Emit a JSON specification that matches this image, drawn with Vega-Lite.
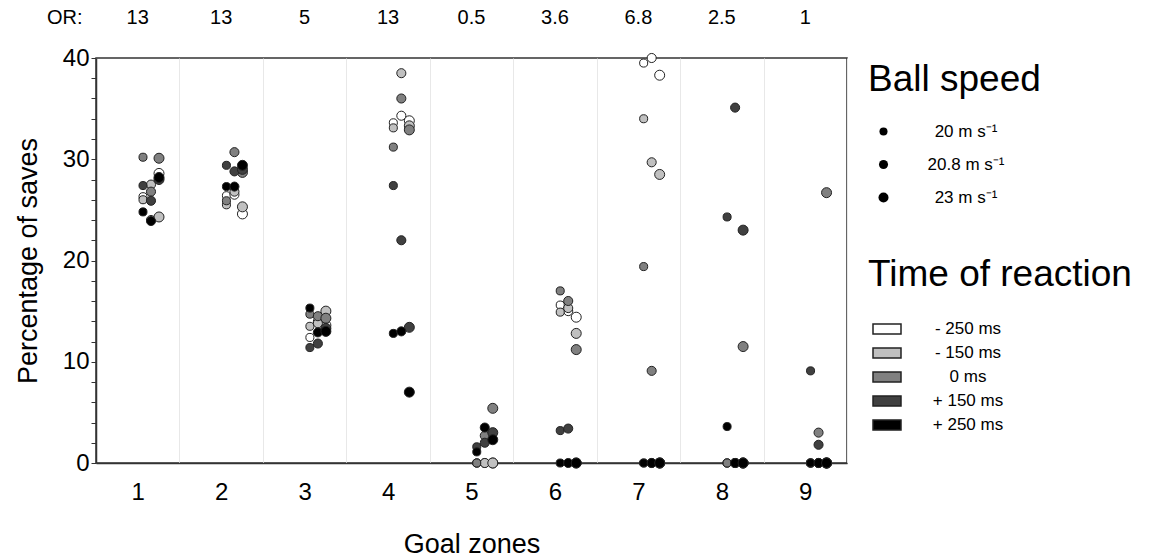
{
  "$schema": "https://vega.github.io/schema/vega-lite/v6.json",
  "width": 751,
  "height": 405,
  "autosize": {"type": "none"},
  "padding": {"left": 96, "top": 58, "right": 303, "bottom": 97},
  "background": "white",
  "config": {
    "font": "Liberation Sans",
    "view": {"stroke": "#333333", "strokeWidth": 1.5},
    "axis": {"labelColor": "black", "titleColor": "black", "titleFontWeight": "normal", "domainColor": "#333333", "domainWidth": 1.5, "tickColor": "#333333", "labelFont": "Liberation Sans", "titleFont": "Liberation Sans"},
    "axisY": {"labelOverlap": false},
    "legend": {"titleFont": "Liberation Sans", "labelFont": "Liberation Sans", "titleColor": "black", "labelColor": "black", "titleFontWeight": "normal", "padding": 0, "titleLimit": 500, "labelLimit": 300}
  },
  "datasets": {
    "obs": [
      {"zone":1,"rt":"- 250 ms","speed":"20 m s\u207b\u00b9","pct":26.3},{"zone":1,"rt":"- 250 ms","speed":"20.8 m s\u207b\u00b9","pct":24.0},{"zone":1,"rt":"- 250 ms","speed":"23 m s\u207b\u00b9","pct":28.6},
      {"zone":1,"rt":"- 150 ms","speed":"20 m s\u207b\u00b9","pct":26.0},{"zone":1,"rt":"- 150 ms","speed":"20.8 m s\u207b\u00b9","pct":27.5},{"zone":1,"rt":"- 150 ms","speed":"23 m s\u207b\u00b9","pct":24.3},
      {"zone":1,"rt":"0 ms","speed":"20 m s\u207b\u00b9","pct":30.2},{"zone":1,"rt":"0 ms","speed":"20.8 m s\u207b\u00b9","pct":26.8},{"zone":1,"rt":"0 ms","speed":"23 m s\u207b\u00b9","pct":30.1},
      {"zone":1,"rt":"+ 150 ms","speed":"20 m s\u207b\u00b9","pct":27.4},{"zone":1,"rt":"+ 150 ms","speed":"20.8 m s\u207b\u00b9","pct":25.9},{"zone":1,"rt":"+ 150 ms","speed":"23 m s\u207b\u00b9","pct":28.0},
      {"zone":1,"rt":"+ 250 ms","speed":"20 m s\u207b\u00b9","pct":24.8},{"zone":1,"rt":"+ 250 ms","speed":"20.8 m s\u207b\u00b9","pct":23.9},{"zone":1,"rt":"+ 250 ms","speed":"23 m s\u207b\u00b9","pct":28.2},

      {"zone":2,"rt":"- 250 ms","speed":"20 m s\u207b\u00b9","pct":26.4},{"zone":2,"rt":"- 250 ms","speed":"20.8 m s\u207b\u00b9","pct":26.5},{"zone":2,"rt":"- 250 ms","speed":"23 m s\u207b\u00b9","pct":24.6},
      {"zone":2,"rt":"- 150 ms","speed":"20 m s\u207b\u00b9","pct":25.5},{"zone":2,"rt":"- 150 ms","speed":"20.8 m s\u207b\u00b9","pct":26.8},{"zone":2,"rt":"- 150 ms","speed":"23 m s\u207b\u00b9","pct":25.3},
      {"zone":2,"rt":"0 ms","speed":"20 m s\u207b\u00b9","pct":25.9},{"zone":2,"rt":"0 ms","speed":"20.8 m s\u207b\u00b9","pct":30.7},{"zone":2,"rt":"0 ms","speed":"23 m s\u207b\u00b9","pct":28.7},
      {"zone":2,"rt":"+ 150 ms","speed":"20 m s\u207b\u00b9","pct":29.4},{"zone":2,"rt":"+ 150 ms","speed":"20.8 m s\u207b\u00b9","pct":28.8},{"zone":2,"rt":"+ 150 ms","speed":"23 m s\u207b\u00b9","pct":29.0},
      {"zone":2,"rt":"+ 250 ms","speed":"20 m s\u207b\u00b9","pct":27.3},{"zone":2,"rt":"+ 250 ms","speed":"20.8 m s\u207b\u00b9","pct":27.3},{"zone":2,"rt":"+ 250 ms","speed":"23 m s\u207b\u00b9","pct":29.4},

      {"zone":3,"rt":"- 250 ms","speed":"20 m s\u207b\u00b9","pct":12.4},{"zone":3,"rt":"- 250 ms","speed":"20.8 m s\u207b\u00b9","pct":14.0},{"zone":3,"rt":"- 250 ms","speed":"23 m s\u207b\u00b9","pct":13.6},
      {"zone":3,"rt":"- 150 ms","speed":"20 m s\u207b\u00b9","pct":13.5},{"zone":3,"rt":"- 150 ms","speed":"20.8 m s\u207b\u00b9","pct":13.8},{"zone":3,"rt":"- 150 ms","speed":"23 m s\u207b\u00b9","pct":15.0},
      {"zone":3,"rt":"0 ms","speed":"20 m s\u207b\u00b9","pct":14.7},{"zone":3,"rt":"0 ms","speed":"20.8 m s\u207b\u00b9","pct":14.5},{"zone":3,"rt":"0 ms","speed":"23 m s\u207b\u00b9","pct":14.3},
      {"zone":3,"rt":"+ 150 ms","speed":"20 m s\u207b\u00b9","pct":11.4},{"zone":3,"rt":"+ 150 ms","speed":"20.8 m s\u207b\u00b9","pct":11.8},{"zone":3,"rt":"+ 150 ms","speed":"23 m s\u207b\u00b9","pct":13.3},
      {"zone":3,"rt":"+ 250 ms","speed":"20 m s\u207b\u00b9","pct":15.3},{"zone":3,"rt":"+ 250 ms","speed":"20.8 m s\u207b\u00b9","pct":12.9},{"zone":3,"rt":"+ 250 ms","speed":"23 m s\u207b\u00b9","pct":13.0},

      {"zone":4,"rt":"- 250 ms","speed":"20 m s\u207b\u00b9","pct":33.6},{"zone":4,"rt":"- 250 ms","speed":"20.8 m s\u207b\u00b9","pct":34.3},{"zone":4,"rt":"- 250 ms","speed":"23 m s\u207b\u00b9","pct":33.8},
      {"zone":4,"rt":"- 150 ms","speed":"20 m s\u207b\u00b9","pct":33.1},{"zone":4,"rt":"- 150 ms","speed":"20.8 m s\u207b\u00b9","pct":38.5},{"zone":4,"rt":"- 150 ms","speed":"23 m s\u207b\u00b9","pct":33.3},
      {"zone":4,"rt":"0 ms","speed":"20 m s\u207b\u00b9","pct":31.2},{"zone":4,"rt":"0 ms","speed":"20.8 m s\u207b\u00b9","pct":36.0},{"zone":4,"rt":"0 ms","speed":"23 m s\u207b\u00b9","pct":32.9},
      {"zone":4,"rt":"+ 150 ms","speed":"20 m s\u207b\u00b9","pct":27.4},{"zone":4,"rt":"+ 150 ms","speed":"20.8 m s\u207b\u00b9","pct":22.0},{"zone":4,"rt":"+ 150 ms","speed":"23 m s\u207b\u00b9","pct":13.4},
      {"zone":4,"rt":"+ 250 ms","speed":"20 m s\u207b\u00b9","pct":12.8},{"zone":4,"rt":"+ 250 ms","speed":"20.8 m s\u207b\u00b9","pct":13.0},{"zone":4,"rt":"+ 250 ms","speed":"23 m s\u207b\u00b9","pct":7.0},

      {"zone":5,"rt":"- 250 ms","speed":"20 m s\u207b\u00b9","pct":0},{"zone":5,"rt":"- 250 ms","speed":"20.8 m s\u207b\u00b9","pct":0},{"zone":5,"rt":"- 250 ms","speed":"23 m s\u207b\u00b9","pct":0},
      {"zone":5,"rt":"- 150 ms","speed":"20 m s\u207b\u00b9","pct":0},{"zone":5,"rt":"- 150 ms","speed":"20.8 m s\u207b\u00b9","pct":0},{"zone":5,"rt":"- 150 ms","speed":"23 m s\u207b\u00b9","pct":0},
      {"zone":5,"rt":"0 ms","speed":"20 m s\u207b\u00b9","pct":0},{"zone":5,"rt":"0 ms","speed":"20.8 m s\u207b\u00b9","pct":2.7},{"zone":5,"rt":"0 ms","speed":"23 m s\u207b\u00b9","pct":5.4},
      {"zone":5,"rt":"+ 150 ms","speed":"20 m s\u207b\u00b9","pct":1.6},{"zone":5,"rt":"+ 150 ms","speed":"20.8 m s\u207b\u00b9","pct":2.0},{"zone":5,"rt":"+ 150 ms","speed":"23 m s\u207b\u00b9","pct":3.0},
      {"zone":5,"rt":"+ 250 ms","speed":"20 m s\u207b\u00b9","pct":1.1},{"zone":5,"rt":"+ 250 ms","speed":"20.8 m s\u207b\u00b9","pct":3.5},{"zone":5,"rt":"+ 250 ms","speed":"23 m s\u207b\u00b9","pct":2.3},

      {"zone":6,"rt":"- 250 ms","speed":"20 m s\u207b\u00b9","pct":15.6},{"zone":6,"rt":"- 250 ms","speed":"20.8 m s\u207b\u00b9","pct":15.0},{"zone":6,"rt":"- 250 ms","speed":"23 m s\u207b\u00b9","pct":14.4},
      {"zone":6,"rt":"- 150 ms","speed":"20 m s\u207b\u00b9","pct":14.9},{"zone":6,"rt":"- 150 ms","speed":"20.8 m s\u207b\u00b9","pct":15.3},{"zone":6,"rt":"- 150 ms","speed":"23 m s\u207b\u00b9","pct":12.8},
      {"zone":6,"rt":"0 ms","speed":"20 m s\u207b\u00b9","pct":17.0},{"zone":6,"rt":"0 ms","speed":"20.8 m s\u207b\u00b9","pct":16.0},{"zone":6,"rt":"0 ms","speed":"23 m s\u207b\u00b9","pct":11.2},
      {"zone":6,"rt":"+ 150 ms","speed":"20 m s\u207b\u00b9","pct":3.2},{"zone":6,"rt":"+ 150 ms","speed":"20.8 m s\u207b\u00b9","pct":3.4},{"zone":6,"rt":"+ 150 ms","speed":"23 m s\u207b\u00b9","pct":0},
      {"zone":6,"rt":"+ 250 ms","speed":"20 m s\u207b\u00b9","pct":0},{"zone":6,"rt":"+ 250 ms","speed":"20.8 m s\u207b\u00b9","pct":0},{"zone":6,"rt":"+ 250 ms","speed":"23 m s\u207b\u00b9","pct":0},

      {"zone":7,"rt":"- 250 ms","speed":"20 m s\u207b\u00b9","pct":39.5},{"zone":7,"rt":"- 250 ms","speed":"20.8 m s\u207b\u00b9","pct":40.0},{"zone":7,"rt":"- 250 ms","speed":"23 m s\u207b\u00b9","pct":38.3},
      {"zone":7,"rt":"- 150 ms","speed":"20 m s\u207b\u00b9","pct":34.0},{"zone":7,"rt":"- 150 ms","speed":"20.8 m s\u207b\u00b9","pct":29.7},{"zone":7,"rt":"- 150 ms","speed":"23 m s\u207b\u00b9","pct":28.5},
      {"zone":7,"rt":"0 ms","speed":"20 m s\u207b\u00b9","pct":19.4},{"zone":7,"rt":"0 ms","speed":"20.8 m s\u207b\u00b9","pct":9.1},{"zone":7,"rt":"0 ms","speed":"23 m s\u207b\u00b9","pct":0},
      {"zone":7,"rt":"+ 150 ms","speed":"20 m s\u207b\u00b9","pct":0},{"zone":7,"rt":"+ 150 ms","speed":"20.8 m s\u207b\u00b9","pct":0},{"zone":7,"rt":"+ 150 ms","speed":"23 m s\u207b\u00b9","pct":0},
      {"zone":7,"rt":"+ 250 ms","speed":"20 m s\u207b\u00b9","pct":0},{"zone":7,"rt":"+ 250 ms","speed":"20.8 m s\u207b\u00b9","pct":0},{"zone":7,"rt":"+ 250 ms","speed":"23 m s\u207b\u00b9","pct":0},

      {"zone":8,"rt":"- 250 ms","speed":"20 m s\u207b\u00b9","pct":0},{"zone":8,"rt":"- 250 ms","speed":"20.8 m s\u207b\u00b9","pct":0},{"zone":8,"rt":"- 250 ms","speed":"23 m s\u207b\u00b9","pct":0},
      {"zone":8,"rt":"- 150 ms","speed":"20 m s\u207b\u00b9","pct":0},{"zone":8,"rt":"- 150 ms","speed":"20.8 m s\u207b\u00b9","pct":0},{"zone":8,"rt":"- 150 ms","speed":"23 m s\u207b\u00b9","pct":0},
      {"zone":8,"rt":"0 ms","speed":"20 m s\u207b\u00b9","pct":0},{"zone":8,"rt":"0 ms","speed":"20.8 m s\u207b\u00b9","pct":0},{"zone":8,"rt":"0 ms","speed":"23 m s\u207b\u00b9","pct":11.5},
      {"zone":8,"rt":"+ 150 ms","speed":"20 m s\u207b\u00b9","pct":24.3},{"zone":8,"rt":"+ 150 ms","speed":"20.8 m s\u207b\u00b9","pct":35.1},{"zone":8,"rt":"+ 150 ms","speed":"23 m s\u207b\u00b9","pct":23.0},
      {"zone":8,"rt":"+ 250 ms","speed":"20 m s\u207b\u00b9","pct":3.6},{"zone":8,"rt":"+ 250 ms","speed":"20.8 m s\u207b\u00b9","pct":0},{"zone":8,"rt":"+ 250 ms","speed":"23 m s\u207b\u00b9","pct":0},

      {"zone":9,"rt":"- 250 ms","speed":"20 m s\u207b\u00b9","pct":0},{"zone":9,"rt":"- 250 ms","speed":"20.8 m s\u207b\u00b9","pct":0},{"zone":9,"rt":"- 250 ms","speed":"23 m s\u207b\u00b9","pct":0},
      {"zone":9,"rt":"- 150 ms","speed":"20 m s\u207b\u00b9","pct":0},{"zone":9,"rt":"- 150 ms","speed":"20.8 m s\u207b\u00b9","pct":0},{"zone":9,"rt":"- 150 ms","speed":"23 m s\u207b\u00b9","pct":0},
      {"zone":9,"rt":"0 ms","speed":"20 m s\u207b\u00b9","pct":0},{"zone":9,"rt":"0 ms","speed":"20.8 m s\u207b\u00b9","pct":3.0},{"zone":9,"rt":"0 ms","speed":"23 m s\u207b\u00b9","pct":26.7},
      {"zone":9,"rt":"+ 150 ms","speed":"20 m s\u207b\u00b9","pct":9.1},{"zone":9,"rt":"+ 150 ms","speed":"20.8 m s\u207b\u00b9","pct":1.8},{"zone":9,"rt":"+ 150 ms","speed":"23 m s\u207b\u00b9","pct":0},
      {"zone":9,"rt":"+ 250 ms","speed":"20 m s\u207b\u00b9","pct":0},{"zone":9,"rt":"+ 250 ms","speed":"20.8 m s\u207b\u00b9","pct":0},{"zone":9,"rt":"+ 250 ms","speed":"23 m s\u207b\u00b9","pct":0}
    ],
    "oddsratio": [
      {"zone":1,"or":"13"},{"zone":2,"or":"13"},{"zone":3,"or":"5"},{"zone":4,"or":"13"},{"zone":5,"or":"0.5"},
      {"zone":6,"or":"3.6"},{"zone":7,"or":"6.8"},{"zone":8,"or":"2.5"},{"zone":9,"or":"1"}
    ]
  },
  "layer": [
    {
      "data": {"name": "obs"},
      "mark": {"type": "point", "shape": "circle", "filled": true, "stroke": "#222222", "strokeWidth": 1, "opacity": 1},
      "encoding": {
        "x": {
          "field": "zone", "type": "ordinal", "title": "Goal zones",
          "scale": {"type": "band", "paddingInner": 0, "paddingOuter": 0},
          "axis": {"labelAngle": 0, "labelFontSize": 24, "ticks": false, "tickSize": 0, "labelPadding": 17, "titleFontSize": 27, "titlePadding": 27, "grid": true, "tickBand": "extent", "gridColor": "#e8e8e8", "gridWidth": 1}
        },
        "xOffset": {
          "field": "speed", "type": "nominal",
          "scale": {"type": "point", "domain": ["20 m s\u207b\u00b9", "20.8 m s\u207b\u00b9", "23 m s\u207b\u00b9"], "range": [47, 63], "padding": 0}
        },
        "y": {
          "field": "pct", "type": "quantitative", "title": "Percentage of saves",
          "scale": {"domain": [0, 40], "nice": false},
          "axis": {"values": [0,2,4,6,8,10,12,14,16,18,20,22,24,26,28,30,32,34,36,38,40], "labelExpr": "datum.value % 10 === 0 ? datum.label : ''", "labelOverlap": false, "labelFontSize": 24, "tickSize": 5, "tickWidth": 1, "labelPadding": 2, "titleFontSize": 27, "titlePadding": 20, "grid": false}
        },
        "color": {
          "field": "rt", "type": "nominal",
          "scale": {"domain": ["- 250 ms", "- 150 ms", "0 ms", "+ 150 ms", "+ 250 ms"], "range": ["#ffffff", "#c0c0c0", "#808080", "#404040", "#000000"]},
          "legend": {"title": "Time of reaction", "orient": "none", "legendX": 772, "legendY": 199, "titleFontSize": 37, "titlePadding": 20, "symbolType": "M-1,-0.36H1V0.36H-1Z", "symbolSize": 784, "symbolStrokeColor": "#222222", "symbolStrokeWidth": 1.5, "symbolOpacity": 1, "labelFontSize": 17, "labelAlign": "center", "labelOffset": 66, "symbolOffset": 4, "rowPadding": 0}
        },
        "size": {
          "field": "speed", "type": "ordinal",
          "scale": {"domain": ["20 m s\u207b\u00b9", "20.8 m s\u207b\u00b9", "23 m s\u207b\u00b9"], "range": [65, 100, 170]},
          "legend": {"title": "Ball speed", "orient": "none", "legendX": 772, "legendY": 4, "titleFontSize": 37, "titlePadding": 24, "symbolType": "circle", "symbolFillColor": "black", "symbolStrokeColor": "black", "symbolStrokeWidth": 0, "symbolOpacity": 1, "labelFontSize": 17, "labelAlign": "center", "labelOffset": 74, "symbolOffset": 7, "rowPadding": 15}
        }
      }
    },
    {
      "data": {"name": "oddsratio"},
      "mark": {"type": "text", "fontSize": 20, "baseline": "middle", "align": "center", "color": "black"},
      "encoding": {
        "x": {"field": "zone", "type": "ordinal"},
        "y": {"datum": 44, "type": "quantitative", "axis": {"values": [0,2,4,6,8,10,12,14,16,18,20,22,24,26,28,30,32,34,36,38,40], "labelExpr": "datum.value % 10 === 0 ? datum.label : ''", "labelOverlap": false, "labelFontSize": 24, "tickSize": 5, "tickWidth": 1, "labelPadding": 2, "titleFontSize": 27, "titlePadding": 20, "grid": false}},
        "text": {"field": "or"}
      }
    },
    {
      "data": {"values": [{}]},
      "mark": {"type": "text", "fontSize": 20, "baseline": "middle", "align": "center", "color": "black", "dx": -73},
      "encoding": {
        "x": {"datum": 1, "type": "ordinal"},
        "y": {"datum": 44, "type": "quantitative", "axis": {"values": [0,2,4,6,8,10,12,14,16,18,20,22,24,26,28,30,32,34,36,38,40], "labelExpr": "datum.value % 10 === 0 ? datum.label : ''", "labelOverlap": false, "labelFontSize": 24, "tickSize": 5, "tickWidth": 1, "labelPadding": 2, "titleFontSize": 27, "titlePadding": 20, "grid": false}},
        "text": {"value": "OR:"}
      }
    }
  ]
}
